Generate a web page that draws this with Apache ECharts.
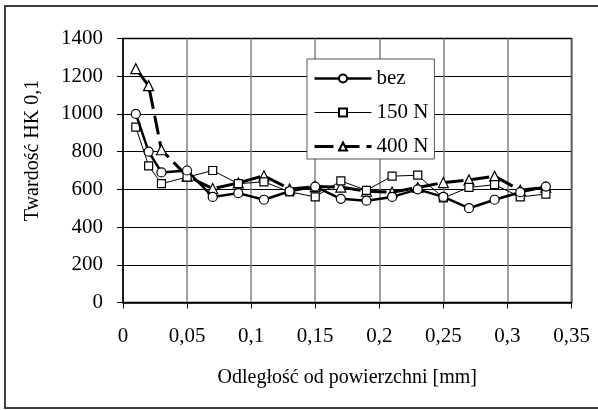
<!DOCTYPE html>
<html>
<head>
<meta charset="utf-8">
<script src="https://cdn.jsdelivr.net/npm/echarts@6/dist/echarts.min.js"></script>
<style>
  html, body { margin: 0; padding: 0; background: #fff; }
  #chart { width: 598px; height: 410px; }
</style>
</head>
<body>
<div id="chart"></div>
<script>
// odległość od powierzchni [mm]
const distance = [0.01, 0.02, 0.03, 0.05, 0.07, 0.09, 0.11, 0.13, 0.15, 0.17, 0.19, 0.21, 0.23, 0.25, 0.27, 0.29, 0.31, 0.33];
const bez = [1000, 800, 690, 700, 560, 580, 545, 590, 615, 550, 540, 560, 600, 560, 500, 545, 585, 615];
const n150 = [930, 725, 630, 665, 700, 630, 640, 587, 560, 645, 595, 670, 675, 555, 610, 625, 560, 575];
const n400 = [1240, 1150, 810, 670, 604, 634, 672, 602, 615, 612, 590, 585, 610, 636, 650, 670, 595, 612];
const seriesNames = ['bez', '150 N', '400 N'];

const font = 'Liberation Serif';
const fs = 21;
const pairs = (ys) => distance.map((x, i) => [x, ys[i]]);

const option = {
  animation: false,
  backgroundColor: '#fff',
  textStyle: { fontFamily: font, color: '#000' },
  grid: {
    left: 123, top: 38.5, right: 26.5, bottom: 107.5,
    show: true, borderColor: '#000', borderWidth: 1.5
  },
  graphic: [{
    type: 'rect',
    shape: { x: 5, y: 6, width: 600, height: 402 },
    style: { fill: null, stroke: '#404040', lineWidth: 2 },
    z: 0
  }],
  legend: {
    orient: 'vertical',
    left: 307, top: 59,
    padding: [9, 6, 2, 6],
    itemGap: 13,
    itemWidth: 57, itemHeight: 10,
    backgroundColor: '#fff',
    borderColor: '#555', borderWidth: 1,
    textStyle: { fontFamily: font, fontSize: fs, color: '#000', lineHeight: 20 },
    data: [
      { name: seriesNames[0], lineStyle: { width: 2.5 } },
      { name: seriesNames[1], lineStyle: { width: 1 } },
      { name: seriesNames[2], lineStyle: { width: 3 } }
    ]
  },
  xAxis: {
    type: 'value', min: 0, max: 0.35, interval: 0.05,
    name: 'Odległość od powierzchni [mm]',
    nameLocation: 'middle', nameGap: 65,
    nameTextStyle: { fontFamily: font, fontSize: 20, color: '#000' },
    axisLine: { lineStyle: { color: '#000', width: 1.5 } },
    axisTick: { inside: false, length: 6, lineStyle: { color: '#000' } },
    axisLabel: {
      margin: 23, fontFamily: font, fontSize: fs, color: '#000',
      formatter: (v) => String(+v.toFixed(2)).replace('.', ',')
    },
    splitLine: { show: true, lineStyle: { color: '#808080', width: 1.5 } }
  },
  yAxis: {
    type: 'value', min: 0, max: 1400, interval: 200,
    name: 'Twardość HK 0,1',
    nameLocation: 'middle', nameGap: 80, nameRotate: 90,
    nameTextStyle: { fontFamily: font, fontSize: 20, color: '#000', padding: [0, 0, 0, 40] },
    axisLine: { show: true, lineStyle: { color: '#000', width: 1.5 } },
    axisTick: { show: true, length: 6, lineStyle: { color: '#000' } },
    axisLabel: {
      margin: 20, fontFamily: font, fontSize: fs, color: '#000',
      formatter: (v) => String(v)
    },
    splitLine: { show: true, lineStyle: { color: '#000', width: 1 } }
  },
  series: [
    {
      name: seriesNames[0], type: 'line', data: pairs(bez),
      symbol: 'circle', symbolSize: 9,
      lineStyle: { color: '#000', width: 2.5 },
      itemStyle: { color: '#fff', borderColor: '#000', borderWidth: 1.2 },
      z: 4
    },
    {
      name: seriesNames[1], type: 'line', data: pairs(n150),
      symbol: 'rect', symbolSize: 8,
      lineStyle: { color: '#000', width: 1 },
      itemStyle: { color: '#fff', borderColor: '#000', borderWidth: 1.2 },
      z: 3
    },
    {
      name: seriesNames[2], type: 'line', data: pairs(n400),
      symbol: 'triangle', symbolSize: 10,
      lineStyle: { color: '#000', width: 3, type: [19, 7] },
      itemStyle: { color: '#fff', borderColor: '#000', borderWidth: 1.2 },
      z: 2
    }
  ]
};

const chart = echarts.init(document.getElementById('chart'));
chart.setOption(option);
</script>
</body>
</html>
